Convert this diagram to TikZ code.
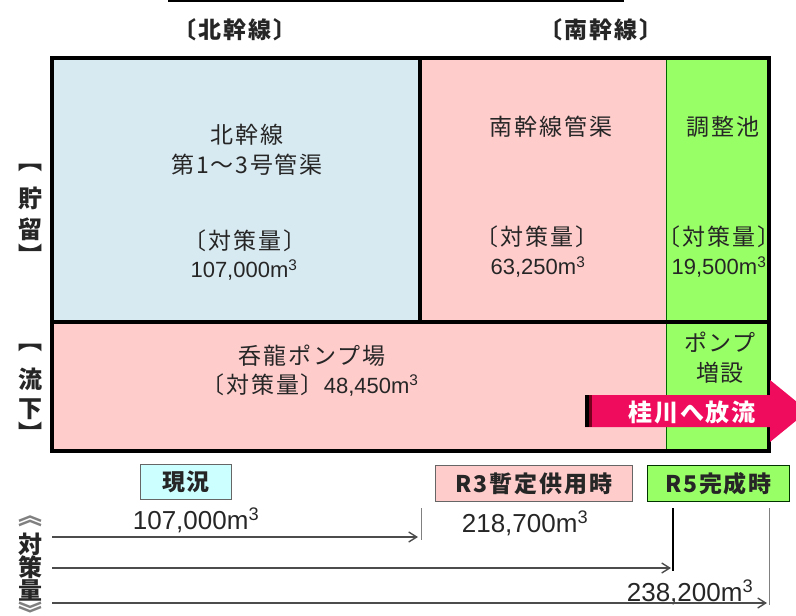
\documentclass[tikz,border=0pt]{standalone}
\usepackage{fontspec}
\usepackage{graphicx}
\setmainfont{Liberation Sans}
\newfontfamily\jp[LetterSpace=8]{Noto Sans CJK JP}
\newfontfamily\jpn{Noto Sans CJK JP}
\usetikzlibrary{arrows.meta}
\definecolor{blueA}{RGB}{216,234,241}
\definecolor{pinkA}{RGB}{255,204,204}
\definecolor{greenA}{RGB}{153,255,102}
\definecolor{cyanA}{RGB}{204,255,255}
\definecolor{txt}{RGB}{38,38,38}
\definecolor{flow}{RGB}{240,12,92}
\definecolor{flowdark}{RGB}{120,0,30}
\newcommand\mc[1]{#1m\textsuperscript{3}}
\tikzset{
  cell/.style={inner sep=0pt, outer sep=0pt, anchor=north west},
  lab/.style={inner sep=0pt, text=txt, font=\jp\fontsize{23}{26}\selectfont},
  num/.style={inner sep=0pt, text=txt, font=\fontsize{22}{24}\selectfont},
  bignum/.style={inner sep=0pt, text=txt, font=\fontsize{26}{28}\selectfont},
  side/.style={inner sep=0pt, text=txt, font=\jpn\bfseries\fontsize{24}{24}\selectfont},
  tag/.style={draw=gray!80!black, line width=1pt, inner sep=0pt, anchor=north west, text=txt, font=\jp\bfseries\fontsize{23}{24}\selectfont},
  meas/.style={draw=black!70, line width=1.6pt, -{Straight Barb[length=8pt,width=10pt,line width=1.4pt]}},
  tick/.style={draw=black!70, line width=1.4pt}
}
\begin{document}
\begin{tikzpicture}[x=1pt,y=-1pt]
\useasboundingbox (0,0) rectangle (796,616);
% top line
\coordinate (tl1) at (168,1);
\coordinate (tl2) at (624,1);
\draw[line width=2pt] (tl1) -- (tl2);
% headers
\node[lab, font=\jp\bfseries\fontsize{23}{24}\selectfont] (hdrN) at (235,30) {〔北幹線〕};
\node[lab, font=\jp\bfseries\fontsize{23}{24}\selectfont] (hdrS) at (601,30) {〔南幹線〕};
% cells
\node[cell, fill=blueA, minimum width=368pt, minimum height=264pt] (kita) at (52,58) {};
\node[cell, fill=pinkA, minimum width=246pt, minimum height=264pt] (minami) at (420,58) {};
\node[cell, fill=greenA, minimum width=103pt, minimum height=393pt] (pond) at (666,58) {};
\node[cell, fill=pinkA, minimum width=614pt, minimum height=129pt] (pump) at (52,322) {};
\draw[green!40!black, line width=0.8pt] (pond.north west) -- (pond.south west);
% thick lines
\draw[line width=3.5pt] (kita.north east) -- (kita.south east);
\draw[line width=3.5pt] (52,322) -- (769,322);
\draw[line width=4pt] (52,58) rectangle (769,451);
% box texts
\node[lab] (t1) at (247,135) {北幹線};
\node[lab] (t2) at (247,165) {第1～3号管渠};
\node[lab] (t3) at (245,241) {〔対策量〕};
\node[num] (t4) at (244,270) {\mc{107,000}};
\node[lab] (t5) at (551,127) {南幹線管渠};
\node[lab] (t6) at (537,237) {〔対策量〕};
\node[num] (t7) at (538,267) {\mc{63,250}};
\node[lab] (t8) at (723,127) {調整池};
\begin{scope}
\clip (666,200) rectangle (767,290);
\node[lab] (t9) at (719,237) {〔対策量〕};
\node[num] (t10) at (719,267) {\mc{19,500}};
\end{scope}
\node[lab] (t11) at (312,356) {呑龍ポンプ場};
\node[lab] (t12) at (310,385) {〔対策量〕{\rmfamily\fontsize{22}{24}\selectfont\mc{48,450}}};
\node[lab] (t13) at (720,342) {ポンプ};
\node[lab] (t14) at (720,373) {増設};
% discharge arrow
\fill[flow] (585,395) -- (770,395) -- (770,380) -- (808,411) -- (770,442) -- (770,427) -- (585,427) -- cycle;
\fill[black] (585,395) rectangle (589,427);
\fill[flowdark] (589,395) rectangle (592,427);
\node[inner sep=0pt, text=white, font=\jp\bfseries\fontsize{24}{24}\selectfont] (dis) at (692,412) {桂川へ放流};
% side labels
\node[side] (a1) at (30,168) {︻};
\node[side] (a2) at (30,198) {貯};
\node[side] (a3) at (30,229) {留};
\node[side] (a4) at (30,254) {︼};
\node[side] (b1) at (30,348) {︻};
\node[side] (b2) at (30,379) {流};
\node[side] (b3) at (30,409) {下};
\node[side] (b4) at (30,432) {︼};
\node[side, text=black!50] (c1) at (30,521) {︽};
\node[side] (c2) at (30,544) {対};
\node[side] (c3) at (30,567) {策};
\node[side] (c4) at (30,590) {量};
\node[side, text=black!50] (c5) at (30,612) {︾};
% tags
\node[tag, fill=cyanA, minimum width=91pt, minimum height=35pt] (now) at (140,464) {現況};
\node[tag, fill=pinkA, minimum width=197pt, minimum height=36pt] (r3) at (435,465) {R3暫定供用時};
\node[tag, fill=greenA, draw=green!20!black, minimum width=142pt, minimum height=36pt] (r5) at (647,465) {R5完成時};
% values
\node[bignum] (v1) at (196,520) {\mc{107,000}};
\node[bignum] (v2) at (525,523) {\mc{218,700}};
\node[bignum] (v3) at (690,592) {\mc{238,200}};
% measure lines
\coordinate (s1) at (52,537);
\coordinate (e1) at (418,537);
\coordinate (k1a) at (421,508);
\coordinate (k1b) at (421,540);
\coordinate (s2) at (52,568);
\coordinate (e2) at (671,568);
\coordinate (k2a) at (673,508);
\coordinate (k2b) at (673,571);
\coordinate (s3) at (52,603);
\coordinate (e3) at (767,603);
\coordinate (k3a) at (769,508);
\coordinate (k3b) at (769,605);
\draw[tick, line width=1pt, draw=black!50] (k1a) -- (k1b);
\draw[tick, draw=black] (k2a) -- (k2b);
\draw[tick, line width=1pt, draw=black!50] (k3a) -- (k3b);
\draw[meas] (s1) -- (e1);
\draw[meas] (s2) -- (e2);
\draw[meas] (s3) -- (e3);
\end{tikzpicture}
\end{document}
